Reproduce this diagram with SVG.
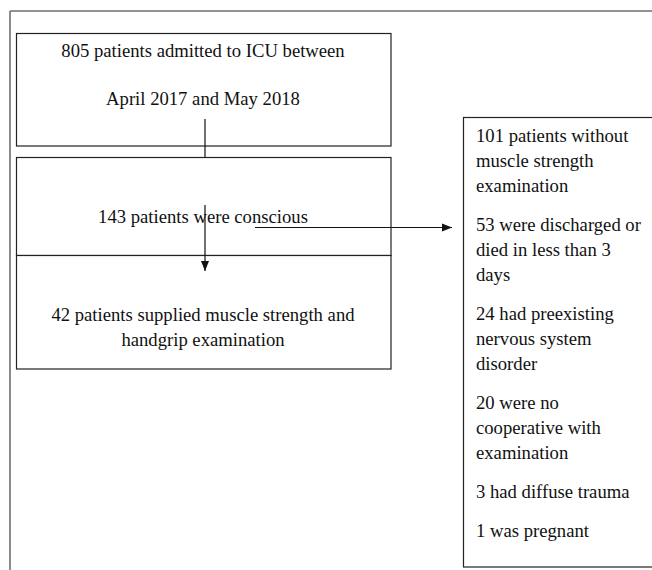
<svg xmlns="http://www.w3.org/2000/svg" width="652" height="570" viewBox="0 0 652 570">
  <defs>
    <style>
      .box { fill: #ffffff; stroke: #222222; stroke-width: 1.2; }
      .frame { stroke: #6e6e6e; stroke-width: 1.6; fill: none; }
      .conn { stroke: #111111; stroke-width: 1.2; fill: none; }
      .t { font-family: "Liberation Serif", "Times New Roman", serif; font-size: 18.67px; fill: #111111; }
      .c { text-anchor: middle; }
    </style>
    <marker id="arrow" markerUnits="userSpaceOnUse" markerWidth="12" markerHeight="10" refX="10" refY="5" orient="auto">
      <path d="M0,1 L10,5 L0,9 Z" fill="#111111"/>
    </marker>
  </defs>
  <rect x="0" y="0" width="652" height="570" fill="#ffffff"/>
  <g id="frame">
    <line class="frame" x1="10" y1="11" x2="652" y2="11"/>
    <line class="frame" x1="10" y1="11" x2="10" y2="570"/>
  </g>
  <g id="node-admitted">
    <rect class="box" x="16.5" y="33.5" width="374.5" height="112.5"/>
    <text class="t c" x="203" y="57">805 patients admitted to ICU between</text>
    <text class="t c" x="203" y="105">April 2017 and May 2018</text>
  </g>
  <g id="node-conscious">
    <rect class="box" x="16.5" y="157.5" width="374.5" height="98"/>
    <text class="t c" x="203" y="223">143 patients were conscious</text>
  </g>
  <g id="node-examined">
    <rect class="box" x="16.5" y="255.5" width="374.5" height="113.5"/>
    <text class="t c" x="203" y="321">42 patients supplied muscle strength and</text>
    <text class="t c" x="203" y="346">handgrip examination</text>
  </g>
  <g id="node-excluded">
    <rect class="box" x="463.5" y="117.5" width="210" height="449.5"/>
    <text class="t" x="476" y="142">101 patients without</text>
    <text class="t" x="476" y="167">muscle strength</text>
    <text class="t" x="476" y="192">examination</text>
    <text class="t" x="476" y="231">53 were discharged or</text>
    <text class="t" x="476" y="256">died in less than 3</text>
    <text class="t" x="476" y="281">days</text>
    <text class="t" x="476" y="320">24 had preexisting</text>
    <text class="t" x="476" y="345">nervous system</text>
    <text class="t" x="476" y="370">disorder</text>
    <text class="t" x="476" y="409">20 were no</text>
    <text class="t" x="476" y="434">cooperative with</text>
    <text class="t" x="476" y="459">examination</text>
    <text class="t" x="476" y="498">3 had diffuse trauma</text>
    <text class="t" x="476" y="537">1 was pregnant</text>
  </g>
  <g id="connectors">
    <line class="conn" x1="205" y1="119" x2="205" y2="157"/>
    <line class="conn" x1="205" y1="205" x2="205" y2="271" marker-end="url(#arrow)"/>
    <line class="conn" x1="255" y1="227.5" x2="452" y2="227.5" marker-end="url(#arrow)"/>
  </g>
</svg>
